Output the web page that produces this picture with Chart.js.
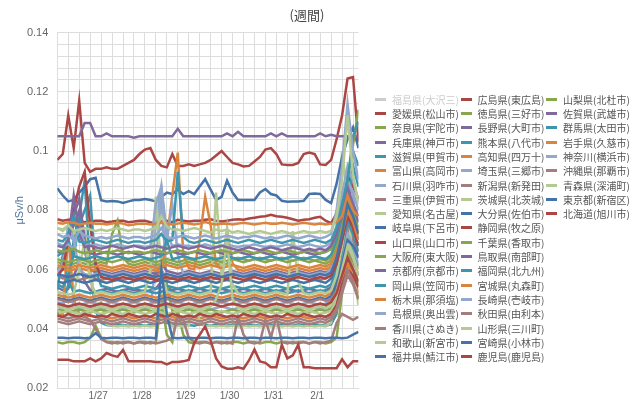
<!DOCTYPE html>
<html>
<head>
<meta charset="utf-8">
<script src="https://cdn.jsdelivr.net/npm/chart.js@4"></script>
<style>
body { margin: 0; background: #fff; }
#wrap { position: relative; width: 640px; height: 399px; }
#legend { position: absolute; left: 375px; top: 92px; display: grid; grid-auto-flow: column;
  grid-template-rows: repeat(19, 14.32px); grid-auto-columns: 85.5px;
  font: 10px "Noto Sans CJK JP", sans-serif; color: #555; }
#legend div { display: flex; align-items: center; white-space: nowrap; }
#legend span { display: inline-block; width: 11px; height: 3px; margin-right: 6px; }
</style>
</head>
<body>
<div id="wrap">
  <canvas id="chart" width="640" height="399"></canvas>
  <div id="legend"></div>
</div>
<script>
// hours since start of the week (3 hour steps)
const hours = [0,3,6,9,12,15,18,21,24,27,30,33,36,39,42,45,48,51,54,57,60,63,66,69,
  72,75,78,81,84,87,90,93,96,99,102,105,108,111,114,117,120,123,126,129,132,135,138,141,
  144,147,150,153,156,159,162,165];
const dayLabels = ['1/27', '1/28', '1/29', '1/30', '1/31', '2/1'];

const prefectures = [
  '福島県(大沢三)', '愛媛県(松山市)', '奈良県(宇陀市)', '兵庫県(神戸市)', '滋賀県(甲賀市)',
  '富山県(高岡市)', '石川県(羽咋市)', '三重県(伊賀市)', '愛知県(名古屋)', '岐阜県(下呂市)',
  '山口県(山口市)', '大阪府(東大阪)', '京都府(京都市)', '岡山県(笠岡市)', '栃木県(那須塩)',
  '島根県(奥出雲)', '香川県(さぬき)', '和歌山(新宮市)', '福井県(鯖江市)', '広島県(東広島)',
  '徳島県(三好市)', '長野県(大町市)', '熊本県(八代市)', '高知県(四万十)', '埼玉県(三郷市)',
  '新潟県(新発田)', '茨城県(北茨城)', '大分県(佐伯市)', '静岡県(牧之原)', '千葉県(香取市)',
  '鳥取県(南部町)', '福岡県(北九州)', '宮城県(丸森町)', '長崎県(壱岐市)', '秋田県(由利本)',
  '山形県(三川町)', '宮崎県(小林市)', '鹿児島(鹿児島)', '山梨県(北杜市)', '佐賀県(武雄市)',
  '群馬県(太田市)', '岩手県(久慈市)', '神奈川(横浜市)', '沖縄県(那覇市)', '青森県(深浦町)',
  '東京都(新宿区)', '北海道(旭川市)'
];
const palette = ['#4572A7', '#AA4643', '#89A54E', '#80699B', '#3D96AE', '#DB843D', '#92A8CD', '#A47D7C', '#B5CA92'];

// µSv/h, one value per entry of hours
const fukushima = [];
const ehime = [.077,.0765,.0768,.077,.0765,.076,.0762,.0765,
  .0765,.076,.0762,.0765,.0765,.076,.0762,.0765,
  .0765,.076,.0758,.0762,.0765,.076,.0768,.0765,
  .0762,.0765,.0765,.0768,.077,.0765,.0762,.0765,
  .0768,.077,.0768,.0772,.0775,.0778,.078,.0785,
  .078,.0778,.0775,.077,.0765,.0768,.077,.0775,
  .0778,.0765,.0757,.079,.086,.092,.088,.084];
const nara = [.0355,.035,.0355,.0355,.035,.0355,.037,.041,
  .037,.0355,.0355,.035,.0355,.0355,.035,.0355,
  .0355,.035,.0355,.05,.038,.0355,.046,.038,
  .0355,.035,.0355,.0355,.035,.0355,.0355,.035,
  .0355,.0355,.035,.0355,.0355,.035,.0355,.0355,
  .035,.0355,.0355,.035,.0355,.0355,.035,.0355,
  .0355,.035,.0355,.037,.052,.065,.058,.05];
const hyogo = [.054,.053,.0535,.058,.062,.056,.053,.0525,
  .053,.0535,.053,.0525,.053,.0535,.053,.053,
  .0525,.053,.0535,.056,.054,.053,.0535,.053,
  .0525,.053,.0535,.053,.0525,.053,.0535,.053,
  .0525,.053,.0535,.053,.0525,.053,.0535,.053,
  .0525,.053,.0535,.053,.0525,.053,.0535,.053,
  .0525,.053,.054,.058,.066,.075,.07,.064];
const shiga = [.045,.048,.055,.07,.078,.09,.06,.046,
  .042,.0413,.041,.0415,.0413,.041,.0415,.0413,
  .041,.0413,.0415,.045,.042,.0413,.041,.0415,
  .0413,.041,.0415,.0413,.041,.0415,.0413,.041,
  .0415,.0413,.041,.0415,.0413,.041,.0415,.0413,
  .041,.0415,.0413,.041,.0415,.0413,.041,.0415,
  .0413,.041,.0415,.045,.06,.08,.095,.088];
const toyama = [.0445,.045,.072,.05,.045,.044,.0445,.044,
  .0445,.044,.0435,.044,.0445,.044,.0435,.044,
  .0445,.044,.0435,.044,.0445,.044,.0435,.044,
  .0445,.044,.0435,.044,.0445,.044,.0435,.044,
  .0445,.044,.0435,.044,.0445,.044,.0435,.044,
  .0445,.044,.0435,.044,.0445,.044,.0435,.044,
  .0445,.044,.045,.048,.055,.062,.058,.052];
const ishikawa = [.048,.047,.0475,.047,.0465,.047,.0475,.047,
  .0465,.047,.0475,.047,.0465,.047,.0475,.047,
  .0465,.047,.062,.085,.055,.047,.0475,.047,
  .0465,.047,.0475,.047,.0465,.047,.0475,.047,
  .0465,.047,.0475,.047,.0465,.047,.0475,.047,
  .0465,.047,.0475,.047,.0465,.047,.0475,.047,
  .0465,.047,.049,.06,.075,.09,.085,.07];
const mie = [.058,.057,.0575,.057,.0565,.057,.0575,.057,
  .0565,.057,.0575,.057,.0565,.057,.0575,.057,
  .0565,.057,.0575,.06,.0565,.057,.0575,.057,
  .0565,.057,.0575,.057,.0565,.057,.0575,.057,
  .058,.0585,.058,.0575,.058,.0585,.058,.0575,
  .058,.0585,.058,.0575,.058,.0585,.058,.0575,
  .0565,.057,.058,.062,.068,.074,.07,.066];
const aichi = [.074,.073,.0745,.072,.074,.073,.06,.048,
  .049,.0415,.041,.0408,.041,.0408,.041,.0408,
  .041,.0408,.041,.052,.043,.0408,.041,.0408,
  .041,.048,.043,.0408,.041,.0408,.041,.0408,
  .041,.0408,.041,.0408,.041,.0408,.041,.0408,
  .041,.0408,.041,.0408,.041,.0408,.041,.0408,
  .041,.0408,.042,.06,.10,.085,.06,.048];
const gifu = [.0874,.085,.083,.0835,.086,.088,.0905,.091,
  .0834,.083,.0831,.083,.0825,.083,.0835,.0835,
  .0838,.0835,.083,.0845,.086,.0855,.087,.0855,
  .0865,.0855,.088,.0905,.087,.0835,.0845,.090,
  .086,.0835,.0835,.0835,.0835,.086,.0872,.0855,
  .085,.0832,.0829,.083,.083,.0832,.0855,.0857,
  .0855,.0835,.0824,.089,.098,.104,.108,.101];
const yamaguchi = [.097,.099,.112,.101,.117,.096,.093,.094,
  .094,.0945,.094,.094,.095,.096,.097,.099,
  .1005,.101,.097,.095,.0945,.099,.095,.095,
  .0955,.095,.0955,.096,.097,.0985,.100,.098,
  .096,.0955,.0948,.095,.0965,.098,.1005,.101,
  .099,.0955,.0953,.0953,.096,.099,.0995,.099,
  .0955,.0953,.097,.104,.112,.1245,.125,.103];
const osaka = [.0465,.046,.0455,.046,.0465,.046,.0455,.046,
  .0465,.046,.0455,.046,.0465,.046,.0455,.046,
  .0465,.046,.0455,.046,.055,.046,.0455,.046,
  .0465,.046,.0455,.046,.0465,.046,.0455,.046,
  .0465,.046,.0455,.046,.0465,.046,.0455,.046,
  .0465,.046,.0455,.046,.0465,.046,.0455,.046,
  .0465,.046,.047,.05,.058,.066,.06,.055];
const kyoto = [.06,.062,.07,.075,.08,.066,.06,.059,
  .0595,.059,.0585,.059,.0595,.059,.0585,.059,
  .0595,.059,.0585,.062,.0595,.059,.0585,.059,
  .0595,.059,.0585,.059,.0595,.059,.0585,.059,
  .0595,.059,.0585,.059,.0595,.059,.0585,.059,
  .0595,.059,.0585,.059,.0595,.059,.0585,.059,
  .0595,.059,.06,.064,.072,.08,.076,.07];
const okayama = [.053,.065,.056,.0525,.053,.0525,.052,.0525,
  .053,.0525,.052,.0525,.053,.0525,.052,.0525,
  .053,.0525,.052,.0525,.053,.0525,.052,.0525,
  .053,.0525,.052,.0525,.053,.0525,.052,.0525,
  .053,.0525,.052,.0525,.053,.0525,.052,.0525,
  .053,.0525,.052,.0525,.053,.0525,.052,.0525,
  .053,.0525,.053,.056,.063,.07,.066,.061];
const tochigi = [.0515,.051,.0505,.051,.0515,.051,.0505,.051,
  .0515,.051,.0505,.051,.0515,.051,.0505,.051,
  .0515,.051,.0505,.051,.0515,.051,.0505,.051,
  .0515,.051,.0505,.051,.0515,.051,.0505,.051,
  .0515,.051,.0505,.051,.0515,.051,.0505,.051,
  .0515,.051,.0505,.051,.0515,.051,.0505,.051,
  .0515,.051,.052,.055,.061,.068,.064,.06];
const shimane = [.049,.0485,.05,.0485,.048,.0485,.049,.0485,
  .048,.0485,.049,.0485,.048,.0485,.049,.0485,
  .048,.0485,.049,.0485,.048,.0485,.049,.0485,
  .048,.0485,.049,.0485,.048,.0485,.049,.0485,
  .048,.0485,.049,.0485,.048,.0485,.049,.0485,
  .048,.0485,.049,.0485,.048,.0485,.049,.0485,
  .048,.0485,.05,.054,.062,.072,.068,.062];
const kagawa = [.0445,.044,.0435,.044,.0445,.044,.043,.04,
  .0365,.0355,.035,.0355,.035,.0355,.035,.0355,
  .035,.0355,.035,.0355,.036,.037,.044,.043,
  .037,.0355,.035,.0355,.035,.0355,.035,.0355,
  .035,.044,.038,.0355,.035,.0355,.043,.037,
  .044,.0355,.035,.0355,.035,.0355,.035,.0355,
  .035,.0355,.036,.042,.045,.044,.043,.044];
const wakayama = [.046,.0455,.046,.0455,.045,.0455,.046,.0455,
  .045,.0455,.046,.0455,.045,.0455,.046,.0455,
  .045,.0455,.046,.0455,.045,.0455,.046,.0455,
  .045,.0455,.046,.0455,.045,.0455,.046,.0455,
  .045,.0455,.046,.0455,.045,.0455,.046,.0455,
  .045,.0455,.046,.0455,.045,.0455,.046,.0455,
  .045,.0455,.046,.05,.058,.07,.065,.058];
const fukui = [.0505,.05,.0495,.05,.0505,.05,.0495,.05,
  .0505,.05,.0495,.05,.0505,.05,.0495,.05,
  .0505,.05,.0495,.05,.0505,.05,.0495,.05,
  .0505,.05,.0495,.05,.0505,.05,.0495,.05,
  .0505,.05,.0495,.05,.0505,.05,.0495,.05,
  .0505,.05,.0495,.05,.0505,.05,.0495,.05,
  .0505,.05,.051,.055,.062,.07,.068,.064];
const hiroshima = [.0445,.044,.045,.0445,.044,.045,.0445,.044,
  .0445,.044,.045,.0445,.044,.045,.0445,.044,
  .0445,.044,.045,.0445,.044,.045,.0445,.044,
  .0445,.044,.045,.0445,.044,.045,.0445,.044,
  .0445,.044,.045,.0445,.044,.045,.0445,.044,
  .0445,.044,.045,.0445,.044,.045,.0445,.044,
  .0445,.044,.045,.048,.055,.06,.058,.054];
const tokushima = [.0625,.062,.0615,.062,.0625,.062,.0615,.062,
  .0625,.062,.072,.0765,.064,.062,.0615,.062,
  .0625,.062,.0615,.062,.0625,.062,.0615,.062,
  .0625,.062,.0615,.062,.0625,.062,.0615,.062,
  .0635,.064,.0635,.063,.0635,.064,.0635,.063,
  .0635,.064,.0635,.063,.0635,.064,.0635,.063,
  .0625,.062,.063,.067,.074,.082,.078,.072];
const nagano = [.105,.105,.105,.105,.105,.1095,.1095,.105,
  .105,.106,.105,.105,.105,.105,.1045,.105,
  .105,.105,.105,.105,.105,.105,.1075,.105,
  .105,.105,.105,.105,.105,.105,.105,.106,
  .105,.1065,.105,.105,.105,.105,.105,.106,
  .105,.106,.105,.105,.105,.105,.105,.105,
  .106,.105,.1055,.105,.105,.105,.105,.105];
const kumamoto = [.055,.054,.058,.065,.075,.08,.085,.06,
  .0545,.054,.0535,.054,.0545,.054,.0535,.054,
  .0545,.054,.0535,.054,.0545,.054,.0535,.054,
  .0545,.054,.0535,.054,.0545,.054,.0535,.054,
  .0545,.054,.0535,.054,.0545,.054,.0535,.054,
  .0545,.054,.0535,.054,.0545,.054,.0535,.054,
  .0545,.054,.055,.06,.068,.076,.072,.066];
const kochi = [.0605,.06,.0595,.06,.0605,.06,.0595,.06,
  .0605,.06,.0595,.06,.0605,.06,.0595,.06,
  .0605,.06,.0595,.06,.07,.085,.0995,.065,
  .0605,.06,.07,.0846,.075,.062,.06,.0733,
  .062,.06,.0595,.06,.0605,.06,.0595,.06,
  .0605,.06,.0595,.06,.0605,.06,.0595,.06,
  .0605,.06,.061,.066,.074,.083,.078,.072];
const saitama = [.059,.062,.075,.07,.06,.0585,.058,.0585,
  .059,.0585,.058,.0585,.059,.0585,.058,.0585,
  .059,.0585,.075,.088,.07,.082,.065,.0585,
  .059,.0585,.058,.0585,.059,.0585,.058,.0585,
  .059,.0585,.058,.0585,.059,.0585,.058,.0585,
  .059,.0585,.058,.0585,.059,.0585,.058,.0585,
  .059,.0585,.06,.066,.078,.09,.086,.08];
const niigata = [.05,.0495,.049,.0495,.05,.0495,.049,.0495,
  .05,.0495,.049,.0495,.05,.0495,.049,.0495,
  .05,.0495,.049,.0495,.05,.0495,.049,.0495,
  .05,.0495,.049,.0495,.05,.0495,.049,.0495,
  .05,.0495,.049,.0495,.05,.0495,.049,.0495,
  .05,.0495,.049,.0495,.05,.0495,.049,.0495,
  .05,.0495,.05,.053,.06,.067,.063,.058];
const ibaraki = [.0525,.052,.0515,.052,.06,.07,.056,.052,
  .0525,.052,.0515,.052,.0525,.052,.0515,.052,
  .0525,.06,.0846,.06,.0525,.052,.0515,.052,
  .0525,.052,.0515,.052,.0525,.086,.058,.074,
  .055,.052,.0515,.052,.0525,.052,.0515,.052,
  .0525,.052,.0515,.073,.056,.052,.0515,.052,
  .0525,.052,.053,.058,.068,.08,.075,.068];
const oita = [.056,.0555,.056,.0565,.056,.0555,.056,.0565,
  .056,.0555,.056,.0565,.056,.0555,.056,.0565,
  .056,.0555,.056,.0565,.056,.0555,.056,.0565,
  .056,.0555,.056,.0565,.056,.0555,.056,.0565,
  .056,.0555,.056,.0565,.056,.0555,.056,.0565,
  .056,.0555,.056,.0565,.056,.0555,.056,.0565,
  .056,.0555,.057,.062,.07,.078,.074,.068];
const shizuoka = [.058,.06,.07,.08,.088,.093,.075,.062,
  .0575,.057,.0565,.057,.0575,.057,.0565,.057,
  .0575,.057,.0565,.057,.0575,.057,.0565,.057,
  .0575,.057,.0565,.057,.0575,.057,.0565,.057,
  .0575,.057,.0565,.057,.0575,.057,.0565,.057,
  .0575,.057,.0565,.057,.0575,.057,.0565,.057,
  .0575,.057,.058,.062,.07,.078,.074,.068];
const chiba = [.0635,.063,.0625,.063,.0635,.063,.0625,.063,
  .0635,.063,.0625,.063,.0635,.063,.0625,.063,
  .0635,.063,.0625,.063,.0635,.063,.0625,.063,
  .0635,.063,.0625,.063,.0635,.063,.0625,.063,
  .0635,.063,.0625,.063,.0635,.063,.0625,.063,
  .0635,.063,.0625,.063,.0635,.063,.0625,.063,
  .0635,.063,.064,.068,.075,.084,.08,.074];
const tottori = [.066,.0655,.07,.078,.084,.07,.0655,.065,
  .0655,.066,.0655,.065,.0655,.066,.0655,.065,
  .0655,.066,.0655,.065,.0655,.066,.0655,.065,
  .0655,.066,.0655,.065,.0655,.066,.0655,.065,
  .0655,.066,.0655,.065,.0655,.066,.0655,.065,
  .0655,.066,.0655,.065,.0655,.066,.0655,.065,
  .0655,.066,.067,.071,.078,.086,.082,.076];
const fukuoka = [.0645,.066,.07,.0645,.064,.0635,.064,.0645,
  .064,.0635,.064,.0645,.064,.0635,.064,.0645,
  .064,.0635,.064,.0645,.07,.0635,.064,.0645,
  .064,.0635,.064,.0645,.064,.0635,.064,.0645,
  .064,.0635,.064,.0645,.064,.0635,.064,.0645,
  .064,.0635,.064,.0645,.064,.0635,.064,.0645,
  .064,.0635,.065,.07,.08,.092,.10,.095];
const miyagi = [.0615,.061,.0605,.061,.0615,.061,.0605,.061,
  .0615,.061,.0605,.061,.0615,.061,.0605,.061,
  .0615,.061,.0605,.061,.0615,.061,.0605,.061,
  .0615,.061,.0605,.061,.0615,.061,.0605,.061,
  .0615,.061,.0605,.061,.0615,.061,.0605,.061,
  .0615,.061,.0605,.061,.0615,.061,.0605,.061,
  .0615,.061,.062,.066,.072,.08,.076,.07];
const nagasaki = [.069,.068,.0685,.067,.074,.069,.068,.0685,
  .068,.0675,.068,.0685,.068,.0675,.068,.068,
  .0675,.068,.082,.088,.072,.068,.0685,.068,
  .068,.0675,.068,.0685,.068,.0675,.068,.0685,
  .068,.0675,.068,.068,.0685,.068,.0675,.068,
  .0675,.068,.0685,.068,.0675,.068,.0685,.068,
  .0675,.068,.069,.075,.085,.095,.09,.083];
const akita = [.0425,.042,.0415,.042,.0425,.042,.0415,.042,
  .0425,.042,.0415,.042,.0425,.042,.0415,.042,
  .0425,.042,.0415,.042,.0425,.042,.0415,.042,
  .0425,.042,.0415,.042,.0425,.042,.0415,.042,
  .0425,.042,.0415,.042,.0425,.042,.0415,.042,
  .0425,.042,.0415,.042,.0425,.042,.0415,.042,
  .0425,.042,.043,.046,.052,.058,.055,.05];
const yamagata = [.0475,.047,.0465,.047,.0475,.047,.0465,.047,
  .0475,.047,.0465,.047,.0475,.047,.0465,.047,
  .0475,.047,.0465,.047,.0475,.047,.0465,.047,
  .0475,.047,.0465,.047,.0475,.05,.055,.07,
  .05,.047,.0465,.047,.0475,.047,.0465,.047,
  .0475,.047,.0465,.047,.0475,.047,.0465,.047,
  .0475,.047,.048,.052,.06,.068,.064,.058];
const miyazaki = [.037,.037,.0368,.037,.037,.0368,.037,.0385,
  .037,.0368,.037,.037,.0368,.037,.037,.0368,
  .037,.037,.0368,.06,.045,.037,.0368,.037,
  .037,.0368,.037,.037,.0368,.037,.037,.0368,
  .037,.037,.0368,.037,.037,.0368,.037,.037,
  .0368,.037,.037,.0368,.037,.037,.0368,.037,
  .037,.0368,.037,.037,.0368,.037,.038,.039];
const kagoshima = [.0485,.048,.0475,.048,.0485,.048,.0475,.048,
  .0485,.048,.0475,.048,.0485,.048,.0475,.048,
  .0485,.048,.0475,.048,.0485,.048,.0475,.048,
  .0485,.048,.0475,.048,.0485,.048,.0475,.048,
  .0485,.048,.0475,.048,.0485,.048,.0475,.048,
  .0485,.048,.0475,.048,.0485,.048,.0475,.048,
  .0485,.048,.049,.052,.058,.064,.06,.056];
const yamanashi = [.0665,.066,.0665,.067,.066,.0655,.066,.0665,
  .066,.0655,.066,.0665,.066,.0655,.066,.066,
  .0655,.066,.0665,.066,.0655,.066,.0665,.066,
  .0655,.066,.0665,.066,.0655,.066,.0665,.066,
  .0655,.066,.0665,.066,.0655,.066,.0665,.066,
  .0655,.066,.0665,.066,.0655,.066,.0665,.066,
  .0655,.066,.067,.072,.08,.09,.102,.114];
const saga = [.068,.0675,.07,.085,.072,.0675,.068,.0675,
  .067,.0675,.068,.0675,.067,.0675,.068,.0675,
  .067,.0675,.068,.0675,.067,.0675,.068,.0675,
  .067,.0675,.068,.0675,.067,.0675,.068,.0675,
  .067,.0665,.067,.0675,.067,.0665,.067,.0675,
  .067,.0665,.067,.0675,.067,.0665,.067,.0665,
  .067,.0665,.068,.072,.08,.088,.082,.078];
const gunma = [.07,.0695,.072,.078,.0695,.069,.0695,.07,
  .0695,.069,.0695,.07,.0695,.069,.0695,.0695,
  .069,.0695,.07,.072,.0695,.07,.093,.071,
  .0695,.069,.0695,.07,.0695,.069,.0695,.07,
  .0695,.069,.0695,.07,.0695,.069,.0695,.07,
  .0695,.069,.0695,.07,.0695,.069,.0695,.07,
  .0695,.069,.07,.074,.082,.09,.105,.11];
const iwate = [.0758,.0755,.076,.0758,.0752,.0755,.0758,.0755,
  .0755,.0752,.0755,.0758,.0755,.075,.0752,.0755,
  .0755,.0752,.0755,.0758,.0755,.0752,.0755,.0758,
  .0755,.0752,.0755,.076,.0755,.0752,.0755,.0755,
  .0752,.0755,.0758,.0755,.0752,.0755,.0758,.0755,
  .0755,.0758,.0755,.0752,.0755,.0758,.0755,.0752,
  .0755,.0752,.0755,.076,.078,.085,.08,.078];
const kanagawa = [.072,.071,.0715,.07,.073,.0715,.071,.0705,
  .071,.0705,.071,.0715,.071,.0705,.071,.071,
  .0705,.071,.0715,.074,.071,.0705,.071,.0715,
  .071,.0705,.071,.0715,.071,.0705,.071,.0715,
  .071,.0705,.071,.071,.0715,.071,.0705,.071,
  .0705,.071,.0715,.071,.0705,.071,.0715,.071,
  .0705,.071,.072,.08,.095,.116,.10,.09];
const okinawa = [.0435,.043,.0425,.043,.0435,.043,.0425,.043,
  .0435,.043,.0425,.043,.0435,.043,.0425,.043,
  .0435,.043,.0425,.043,.0435,.043,.0425,.043,
  .0435,.043,.0425,.043,.0435,.043,.0425,.043,
  .0435,.043,.0425,.043,.0435,.043,.0425,.043,
  .0435,.043,.0425,.043,.0435,.043,.0425,.043,
  .0435,.043,.044,.047,.053,.06,.056,.05];
const aomori = [.074,.0735,.075,.073,.0735,.074,.0735,.073,
  .0735,.073,.0735,.074,.0735,.073,.0735,.0735,
  .073,.0735,.074,.078,.0745,.0735,.0735,.073,
  .0735,.074,.0735,.073,.0725,.0735,.073,.0735,
  .0725,.073,.0725,.072,.0725,.073,.0725,.072,
  .0725,.073,.0725,.072,.0725,.073,.0725,.0725,
  .073,.0725,.073,.078,.09,.112,.092,.082];
const tokyo = [.0585,.058,.0575,.058,.0585,.058,.0575,.058,
  .0585,.058,.0575,.058,.0585,.058,.0575,.058,
  .0585,.058,.0575,.058,.0585,.058,.0575,.058,
  .0585,.058,.0575,.058,.0585,.058,.0575,.058,
  .0585,.058,.0575,.058,.0585,.058,.0575,.058,
  .0585,.058,.0575,.058,.0585,.058,.0575,.058,
  .0585,.058,.059,.064,.072,.082,.078,.072];
const hokkaido = [.0295,.0295,.0295,.029,.029,.029,.030,.029,
  .030,.0318,.031,.0305,.0329,.029,.029,.029,
  .029,.029,.0288,.0288,.028,.0288,.0288,.029,
  .0295,.0352,.038,.0408,.036,.030,.0273,.0265,
  .0265,.027,.0265,.0293,.033,.029,.0285,.027,
  .027,.0346,.030,.031,.0346,.027,.027,.0267,
  .0267,.0267,.0267,.0267,.0297,.027,.029,.029];

const series = [fukushima, ehime, nara, hyogo, shiga, toyama, ishikawa, mie, aichi, gifu,
  yamaguchi, osaka, kyoto, okayama, tochigi, shimane, kagawa, wakayama, fukui, hiroshima,
  tokushima, nagano, kumamoto, kochi, saitama, niigata, ibaraki, oita, shizuoka, chiba,
  tottori, fukuoka, miyagi, nagasaki, akita, yamagata, miyazaki, kagoshima, yamanashi, saga,
  gunma, iwate, kanagawa, okinawa, aomori, tokyo, hokkaido];

const datasets = prefectures.map((name, i) => ({
  label: name,
  data: series[i],
  borderColor: palette[i % 9],
  backgroundColor: palette[i % 9],
  borderWidth: 2.5,
  pointRadius: 0,
  tension: 0,
  hidden: i === 0,
  order: -i
}));

// legend, filled column by column like the original
const legendEl = document.getElementById('legend');
datasets.forEach((ds, i) => {
  const item = document.createElement('div');
  const swatch = document.createElement('span');
  swatch.style.background = ds.hidden ? '#ccc' : ds.borderColor;
  item.appendChild(swatch);
  item.appendChild(document.createTextNode(ds.label));
  if (ds.hidden) item.style.color = '#ccc';
  legendEl.appendChild(item);
});

const ctx = document.getElementById('chart').getContext('2d');
new Chart(ctx, {
  type: 'line',
  data: { labels: hours, datasets: datasets },
  options: {
    responsive: false,
    animation: false,
    layout: { padding: { left: 13.4, right: 39.4, top: 0, bottom: 0 } },
    plugins: {
      legend: { display: false },
      tooltip: { enabled: false },
      title: {
        display: true,
        text: '(週間)',
        color: '#444',
        font: { family: 'Noto Sans CJK JP', size: 13, weight: 'normal' },
        padding: { top: 7, bottom: 10 }
      }
    },
    scales: {
      x: {
        type: 'linear',
        min: 0,
        max: 165,
        grid: { color: '#ddd', drawTicks: false },
        border: { color: '#ddd' },
        ticks: {
          stepSize: 6,
          autoSkip: false,
          maxRotation: 0,
          includeBounds: false,
          padding: 3,
          labelOffset: -3,
          color: '#666',
          font: { family: 'Liberation Sans', size: 10, lineHeight: 1.1 },
          callback: v => (v > 0 && v % 24 === 0) ? dayLabels[v / 24 - 1] : ''
        },
        afterFit: s => { s.height = 11; }
      },
      y: {
        min: 0.02,
        max: 0.14,
        grid: { color: '#ddd', drawTicks: true, tickLength: 8, tickColor: 'rgba(0,0,0,0)' },
        border: { color: '#ddd' },
        ticks: {
          stepSize: 0.004,
          autoSkip: false,
          padding: 1,
          color: '#666',
          font: { family: 'Liberation Sans', size: 11 },
          callback: v => Math.round(v * 1000) % 20 === 0 ? String(+v.toFixed(2)) : ''
        },
        title: {
          display: true,
          text: 'μSv/h',
          color: '#4d759e',
          font: { family: 'Liberation Sans', size: 11 },
          padding: { top: 0, bottom: 0 }
        },
        afterFit: s => { s.width = 43.9; }
      },
      // empty axis that keeps room for the legend on the right
      pad: {
        position: 'right',
        grid: { display: false },
        border: { display: false },
        ticks: { display: false },
        afterFit: s => { s.width = 242.1; }
      }
    }
  }
});
</script>
</body>
</html>
